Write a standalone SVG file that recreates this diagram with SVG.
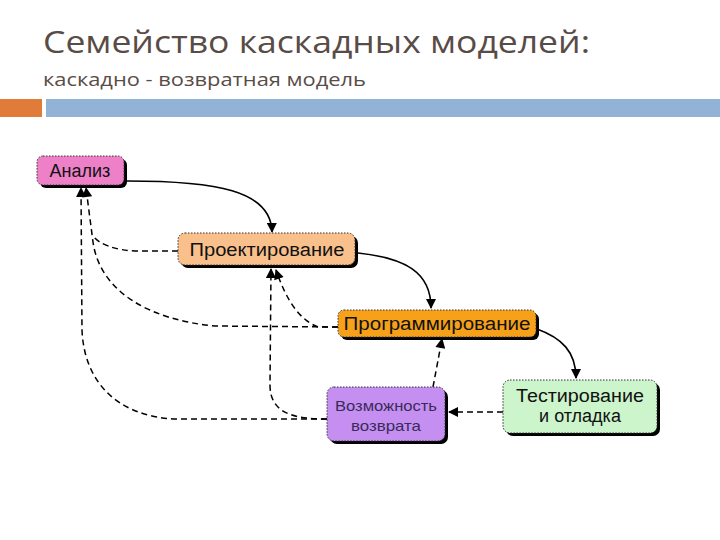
<svg xmlns="http://www.w3.org/2000/svg" width="720" height="540" viewBox="0 0 720 540">
<defs>
<marker id="ah" viewBox="0 0 10 10" refX="9" refY="5" markerWidth="11" markerHeight="10" markerUnits="userSpaceOnUse" orient="auto">
<path d="M0,0 L10,5 L0,10 Z" fill="#000"/>
</marker>
</defs>
<style>
.title{font-family:"Open Sans","Liberation Sans",sans-serif;fill:#594c47}
.box{stroke:#333;stroke-width:1;stroke-dasharray:1.5 1.5}
.sh{fill:#000}
.lbl{font-family:"Liberation Sans",Arial,sans-serif;font-size:18px;fill:#111;text-anchor:middle}
.lbl2{font-family:"Liberation Sans",Arial,sans-serif;font-size:15px;fill:#3a2a5a;text-anchor:middle}
.solid{fill:none;stroke:#000;stroke-width:1.6}
.dash{fill:none;stroke:#000;stroke-width:1.5;stroke-dasharray:6 4}
</style>
<rect width="720" height="540" fill="#fff"/>
<text class="title" x="43" y="53" font-size="31" textLength="547" lengthAdjust="spacingAndGlyphs">Семейство каскадных моделей:</text>
<text class="title" x="43" y="86" font-size="19" textLength="323" lengthAdjust="spacingAndGlyphs">каскадно - возвратная модель</text>
<rect x="0" y="99" width="42" height="18" fill="#e07b39"/>
<rect x="46" y="99" width="674" height="18" fill="#93b3d6"/>

<g id="connectors">
<path class="solid" d="M127,181 C215,181 271,190 272,232" marker-end="url(#ah)"/>
<path class="solid" d="M358,253 C405,258 431,272 431,308" marker-end="url(#ah)"/>
<path class="solid" d="M537,329 C562,338 576,352 576,378" marker-end="url(#ah)"/>
<path class="dash" d="M503,412 L449,412" marker-end="url(#ah)"/>
<path class="dash" d="M433,387 L442,339" marker-end="url(#ah)"/>
<path class="dash" d="M327,419 C295,419 270,414 270,385 L271,269" marker-end="url(#ah)"/>
<path class="dash" d="M338,327 L318,327 C300,320 287,302 276,270" marker-end="url(#ah)"/>
<path class="dash" d="M327,419 L175,419 C115,416 84,380 82,330 L81,188" marker-end="url(#ah)"/>
<path class="dash" d="M338,327 L215,326 C150,320 100,292 93,242 L86,188" marker-end="url(#ah)"/>
<path class="dash" d="M178,251 L135,251 C114,250 99,244 93,236"/>
</g>

<g id="analiz">
<rect class="sh" x="40" y="159" width="87" height="29" rx="6"/>
<rect class="box" x="37" y="156" width="87" height="29" rx="6" fill="#ee80c8"/>
<text class="lbl" x="80" y="177" font-size="19">Анализ</text>
</g>
<g id="proekt">
<rect class="sh" x="181" y="236" width="177" height="32" rx="7"/>
<rect class="box" x="178" y="233" width="177" height="32" rx="7" fill="#f9c08c"/>
<text class="lbl" x="267" y="256" textLength="155" lengthAdjust="spacingAndGlyphs">Проектирование</text>
</g>
<g id="program">
<rect class="sh" x="341" y="313" width="198" height="27" rx="6"/>
<rect class="box" x="338" y="310" width="198" height="27" rx="6" fill="#f7a11a"/>
<text class="lbl" x="437" y="330" textLength="187" lengthAdjust="spacingAndGlyphs">Программирование</text>
</g>
<g id="vozvrat">
<rect class="sh" x="330" y="390" width="118" height="54" rx="7"/>
<rect class="box" x="327" y="387" width="118" height="54" rx="7" fill="#c48ff0"/>
<text class="lbl2" x="386" y="411" textLength="102" lengthAdjust="spacingAndGlyphs">Возможность</text>
<text class="lbl2" x="386" y="431" textLength="70" lengthAdjust="spacingAndGlyphs">возврата</text>
</g>
<g id="test">
<rect class="sh" x="506" y="383" width="154" height="53" rx="7"/>
<rect class="box" x="503" y="380" width="154" height="53" rx="7" fill="#ccf5cc"/>
<text class="lbl" x="580" y="402" textLength="128" lengthAdjust="spacingAndGlyphs">Тестирование</text>
<text class="lbl" x="580" y="422">и отладка</text>
</g>
</svg>
